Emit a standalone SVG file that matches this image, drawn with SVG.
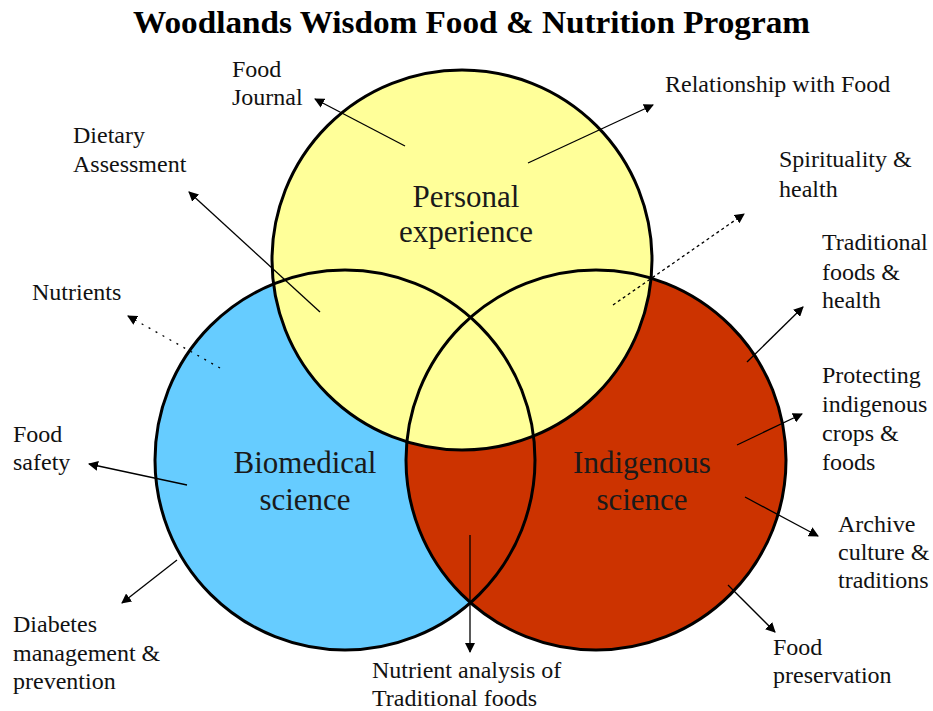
<svg xmlns="http://www.w3.org/2000/svg" width="933" height="711" viewBox="0 0 933 711">
<style>
  .lbl { font-family: "Liberation Serif", "Times New Roman", serif; font-size: 24px; fill: #111; }
  .big { font-family: "Liberation Serif", "Times New Roman", serif; font-size: 31px; fill: #1a1a1a; text-anchor: middle; }
  .title { font-family: "Liberation Serif", "Times New Roman", serif; font-size: 31px; font-weight: bold; fill: #000; }
  .ring { fill: none; stroke: #000; stroke-width: 3; }
  .conn { stroke: #000; stroke-width: 1.3; fill: none; marker-end: url(#ah); }
  .dot { stroke-dasharray: 2 6; }
  .dash { stroke-dasharray: 3 3; }
</style>
<defs>
  <marker id="ah" viewBox="0 0 10 10" refX="9" refY="5" markerWidth="10" markerHeight="10" markerUnits="userSpaceOnUse" orient="auto">
    <path d="M0,0 L10,5 L0,10 Z" fill="#000"/>
  </marker>
</defs>
<rect width="933" height="711" fill="#fff"/>
<g id="title">
  <text class="title" x="133" y="33" textLength="677" lengthAdjust="spacingAndGlyphs">Woodlands Wisdom Food &amp; Nutrition Program</text>
</g>
<g id="biomedical">
  <circle cx="345" cy="460" r="190" fill="#66CCFF"/>
  <text class="big" x="305" y="473">Biomedical</text>
  <text class="big" x="305" y="510">science</text>
</g>
<g id="indigenous">
  <circle cx="596" cy="460" r="190" fill="#CC3300"/>
  <text class="big" x="642" y="473">Indigenous</text>
  <text class="big" x="642" y="510">science</text>
</g>
<g id="personal">
  <circle cx="462" cy="260" r="190" fill="#FFFF99"/>
  <text class="big" x="466" y="207">Personal</text>
  <text class="big" x="466" y="242">experience</text>
</g>
<g id="circle-outlines">
  <circle class="ring" cx="345" cy="460" r="190"/>
  <circle class="ring" cx="596" cy="460" r="190"/>
  <circle class="ring" cx="462" cy="260" r="190"/>
</g>
<g id="connectors">
  <line class="conn" x1="405" y1="146" x2="315" y2="99"/>
  <line class="conn" x1="528" y1="163" x2="653" y2="105"/>
  <line class="conn" x1="320" y1="312" x2="189" y2="192"/>
  <line class="conn dot" x1="220" y1="368" x2="128" y2="316"/>
  <line class="conn dash" x1="613" y1="305" x2="744" y2="214"/>
  <line class="conn" x1="747" y1="362" x2="803" y2="307"/>
  <line class="conn" x1="737" y1="445" x2="802" y2="414"/>
  <line class="conn" x1="745" y1="497" x2="818" y2="536"/>
  <line class="conn" x1="728" y1="585" x2="775" y2="632"/>
  <line class="conn" x1="187" y1="485" x2="89" y2="464"/>
  <line class="conn" x1="177" y1="560" x2="122" y2="603"/>
  <line class="conn" x1="470" y1="535" x2="470" y2="652"/>
</g>
<g id="label-food-journal">
  <text class="lbl" x="232" y="77">Food</text>
  <text class="lbl" x="232" y="105">Journal</text>
</g>
<g id="label-relationship">
  <text class="lbl" x="665" y="92">Relationship with Food</text>
</g>
<g id="label-dietary">
  <text class="lbl" x="73" y="143">Dietary</text>
  <text class="lbl" x="73" y="172">Assessment</text>
</g>
<g id="label-nutrients">
  <text class="lbl" x="32" y="300">Nutrients</text>
</g>
<g id="label-food-safety">
  <text class="lbl" x="13" y="442">Food</text>
  <text class="lbl" x="13" y="470">safety</text>
</g>
<g id="label-diabetes">
  <text class="lbl" x="13" y="632">Diabetes</text>
  <text class="lbl" x="13" y="661">management &amp;</text>
  <text class="lbl" x="13" y="689">prevention</text>
</g>
<g id="label-nutrient-analysis">
  <text class="lbl" x="372" y="678">Nutrient analysis of</text>
  <text class="lbl" x="372" y="706">Traditional foods</text>
</g>
<g id="label-spirituality">
  <text class="lbl" x="779" y="167">Spirituality &amp;</text>
  <text class="lbl" x="779" y="197">health</text>
</g>
<g id="label-traditional">
  <text class="lbl" x="822" y="250">Traditional</text>
  <text class="lbl" x="822" y="280">foods &amp;</text>
  <text class="lbl" x="822" y="308">health</text>
</g>
<g id="label-protecting">
  <text class="lbl" x="822" y="383">Protecting</text>
  <text class="lbl" x="822" y="412">indigenous</text>
  <text class="lbl" x="822" y="441">crops &amp;</text>
  <text class="lbl" x="822" y="470">foods</text>
</g>
<g id="label-archive">
  <text class="lbl" x="838" y="532">Archive</text>
  <text class="lbl" x="838" y="560">culture &amp;</text>
  <text class="lbl" x="838" y="588">traditions</text>
</g>
<g id="label-preservation">
  <text class="lbl" x="773" y="655">Food</text>
  <text class="lbl" x="773" y="683">preservation</text>
</g>
</svg>
